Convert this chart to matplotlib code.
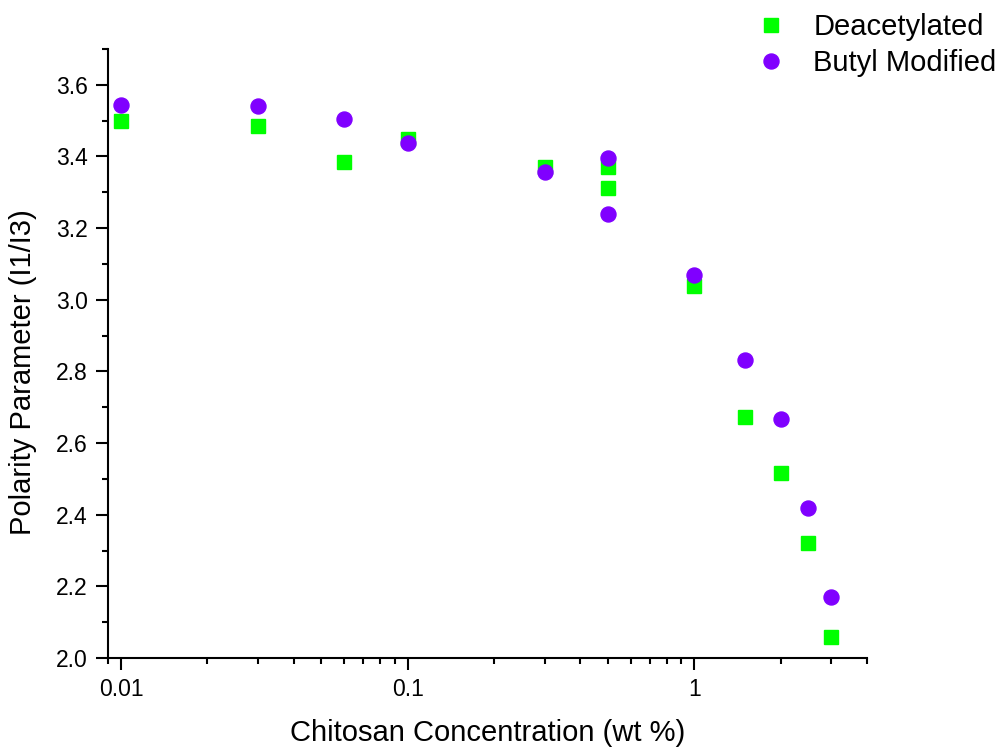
import matplotlib.pyplot as plt
from matplotlib.ticker import FixedLocator, MultipleLocator, FixedFormatter, LogLocator, NullFormatter

plt.rcParams['font.family'] = ['Liberation Sans', 'DejaVu Sans']

# data
conc_deac = [0.01, 0.03, 0.06, 0.1, 0.3, 0.5, 0.5, 1.0, 1.5, 2.0, 2.5, 3.0]
pol_deac = [3.50, 3.485, 3.385, 3.449, 3.371, 3.370, 3.312, 3.038, 2.674, 2.517, 2.322, 2.059]

conc_butyl = [0.01, 0.03, 0.06, 0.1, 0.3, 0.5, 0.5, 1.0, 1.5, 2.0, 2.5, 3.0]
pol_butyl = [3.544, 3.541, 3.505, 3.438, 3.357, 3.396, 3.239, 3.069, 2.831, 2.666, 2.420, 2.171]

fig = plt.figure(figsize=(9.97, 7.49), dpi=100)
ax = fig.add_axes([0.1083, 0.1215, 0.7613, 0.8131])

sq, = ax.plot(conc_deac, pol_deac, 's', color='#00ff00', markersize=9.7, linestyle='none')
ci, = ax.plot(conc_butyl, pol_butyl, 'o', color='#8000ff', markersize=10.8, linestyle='none')

ax.set_xscale('log')
ax.set_xlim(0.009, 4.0)
ax.set_ylim(2.0, 3.7)

ax.xaxis.set_major_locator(FixedLocator([0.01, 0.1, 1]))
ax.xaxis.set_major_formatter(FixedFormatter(['0.01', '0.1', '1']))
ax.xaxis.set_minor_locator(LogLocator(base=10, subs=range(2, 10)))
ax.xaxis.set_minor_formatter(NullFormatter())
ax.yaxis.set_major_locator(MultipleLocator(0.2))
ax.yaxis.set_minor_locator(MultipleLocator(0.1))
ax.yaxis.set_major_formatter(plt.FormatStrFormatter('%.1f'))

for s in ['top', 'right']:
    ax.spines[s].set_visible(False)
for s in ['left', 'bottom']:
    ax.spines[s].set_linewidth(1.5)

ax.tick_params(which='major', direction='out', length=8.5, width=1.5, labelsize=16.5, pad=6)
ax.tick_params(which='minor', direction='out', length=4, width=1.5)

ax.set_xlabel('Chitosan Concentration (wt %)', fontsize=21)
ax.xaxis.set_label_coords(0.5, -0.1)
ax.set_ylabel('Polarity Parameter (I1/I3)', fontsize=21)
ax.yaxis.set_label_coords(-0.094, 0.47)

fig.legend([sq, ci], ['Deacetylated', 'Butyl Modified'], loc='upper left',
           bbox_to_anchor=(0.7588, 0.982), frameon=False, fontsize=21,
           borderpad=0, borderaxespad=0,
           handlelength=1.0, handletextpad=0.95, labelspacing=0.26)

fig.savefig('out.png', dpi=100)
